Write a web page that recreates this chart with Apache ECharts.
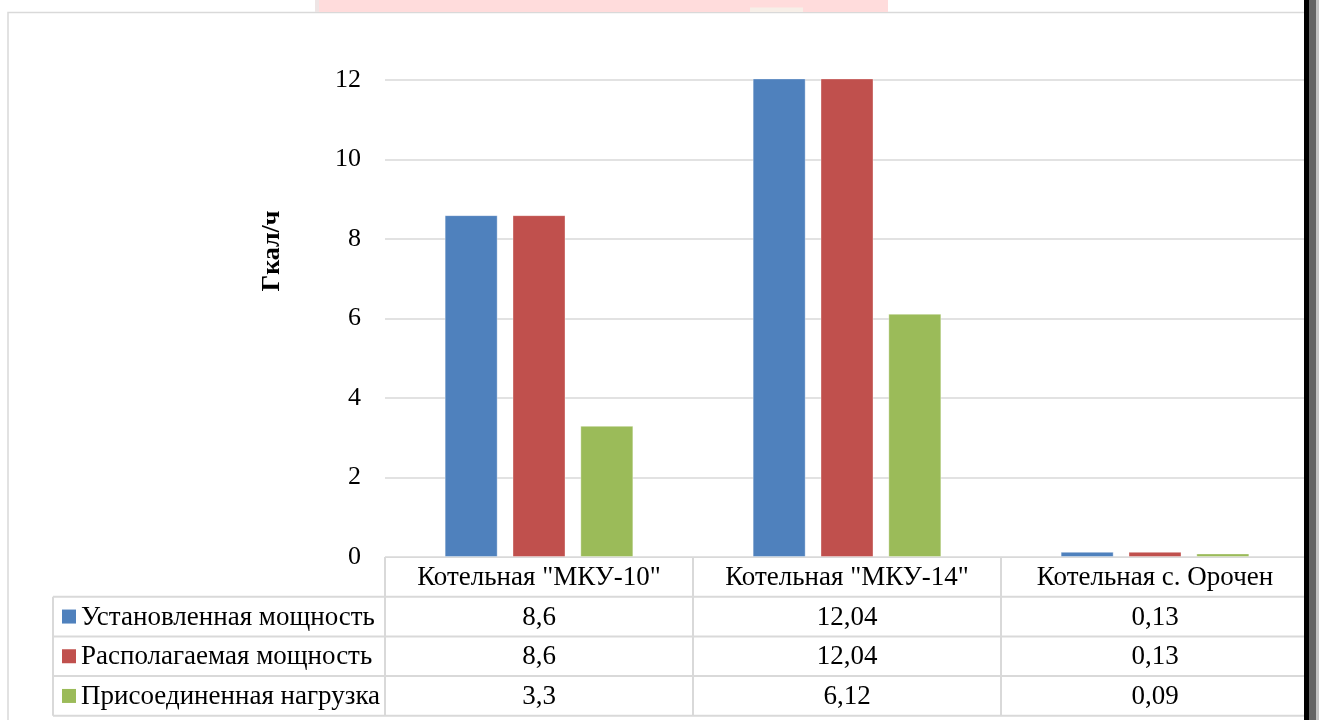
<!DOCTYPE html>
<html>
<head>
<meta charset="utf-8">
<style>
  html, body { margin: 0; padding: 0; background: #ffffff; }
  #chart { width: 1324px; height: 720px; }
</style>
<script src="https://cdn.jsdelivr.net/npm/echarts@6/dist/echarts.min.js"></script>
</head>
<body>
<div id="chart"></div>
<script>
// Boiler houses and their capacities, Gcal/h
const categories = ['Котельная "МКУ-10"', 'Котельная "МКУ-14"', 'Котельная с. Орочен'];
const seriesNames = ['Установленная мощность', 'Располагаемая мощность', 'Присоединенная нагрузка'];
const installedPower = [8.6, 12.04, 0.13];
const availablePower = [8.6, 12.04, 0.13];
const connectedLoad = [3.3, 6.12, 0.09];
const yTicks = [0, 2, 4, 6, 8, 10, 12];
const axisTitle = 'Гкал/ч';

const seriesValues = [installedPower, availablePower, connectedLoad];
const colors = ['#4F81BD', '#C0504D', '#9BBB59'];
const gridColor = '#d9d9d9';
const font = '"Liberation Serif", "Times New Roman", serif';
const tableFont = '27px ' + font;

const chart = echarts.init(document.getElementById('chart'), null, { renderer: 'canvas' });

const GRID = { left: 385, right: 15, top: 80, bottom: 163 };

chart.setOption({
  animation: false,
  backgroundColor: '#ffffff',
  grid: GRID,
  xAxis: {
    type: 'category',
    data: categories,
    axisLine: { show: true, lineStyle: { color: gridColor, width: 1 } },
    axisTick: { show: false },
    axisLabel: { show: false },
    splitLine: { show: false }
  },
  yAxis: {
    type: 'value',
    min: yTicks[0],
    max: yTicks[yTicks.length - 1],
    interval: yTicks[1] - yTicks[0],
    axisLine: { show: false },
    axisTick: { show: false },
    axisLabel: { color: '#000', fontFamily: font, fontSize: 26, margin: 24 },
    splitLine: { show: true, lineStyle: { color: gridColor, width: 1.5 } }
  },
  series: seriesValues.map((vals, i) => ({
    name: seriesNames[i],
    type: 'bar',
    data: vals,
    barWidth: 53,
    barGap: '28%',
    clip: false,
    itemStyle: { color: colors[i], borderColor: 'rgba(255,255,255,0.35)', borderWidth: 1 }
  }))
});

// Data table under the plot, laid out from the category axis positions
function buildTable() {
  const els = [];
  const c0 = chart.convertToPixel({ xAxisIndex: 0 }, 0);
  const c1 = chart.convertToPixel({ xAxisIndex: 0 }, 1);
  const band = c1 - c0;
  const axisY = chart.convertToPixel({ yAxisIndex: 0 }, 0);
  const tableLeft = 53;
  const colStart = c0 - band / 2;
  const tableRight = colStart + band * categories.length;
  const rowH = 39.7;
  const headerBottom = axisY + rowH;
  const rows = seriesNames.length;
  const bottom = headerBottom + rowH * rows;
  const line = (x1, y1, x2, y2) => ({
    type: 'line', silent: true,
    shape: { x1, y1, x2, y2 },
    style: { stroke: gridColor, lineWidth: 2 }
  });

  // horizontal rules
  for (let r = 0; r <= rows; r++) {
    const y = headerBottom + rowH * r;
    els.push(line(tableLeft, y, tableRight, y));
  }
  // vertical rules
  els.push(line(tableLeft, headerBottom, tableLeft, bottom));
  for (let c = 0; c <= categories.length; c++) {
    const x = colStart + band * c;
    els.push(line(x, axisY, x, bottom));
  }
  // header cells
  categories.forEach((name, c) => {
    els.push({
      type: 'text', silent: true,
      x: colStart + band * (c + 0.5), y: axisY + rowH / 2 + 1,
      style: { text: name, fill: '#000', font: tableFont, textAlign: 'center', textVerticalAlign: 'middle' }
    });
  });
  // legend keys and values
  seriesNames.forEach((name, r) => {
    const cy = headerBottom + rowH * (r + 0.5);
    els.push({
      type: 'rect', silent: true,
      shape: { x: 62, y: cy - 7, width: 14, height: 14 },
      style: { fill: colors[r] }
    });
    els.push({
      type: 'text', silent: true,
      x: 81, y: cy + 1,
      style: { text: name, fill: '#000', font: tableFont, textAlign: 'left', textVerticalAlign: 'middle' }
    });
    seriesValues[r].forEach((v, c) => {
      els.push({
        type: 'text', silent: true,
        x: colStart + band * (c + 0.5), y: cy + 1,
        style: { text: String(v).replace('.', ','), fill: '#000', font: tableFont, textAlign: 'center', textVerticalAlign: 'middle' }
      });
    });
  });

  // axis title
  els.push({
    type: 'text', silent: true,
    x: 272, y: 251, rotation: Math.PI / 2,
    style: { text: axisTitle, fill: '#000', font: 'bold 26px ' + font, textAlign: 'center', textVerticalAlign: 'middle' }
  });

  // outer chart frame
  els.push({
    type: 'rect', silent: true, z: -1,
    shape: { x: 8, y: 12.5, width: 1330, height: 760 },
    style: { fill: 'none', stroke: gridColor, lineWidth: 1.5 }
  });

  // page pieces around the chart: strip above and window edge on the right
  els.push({ type: 'rect', silent: true, shape: { x: 315, y: 0, width: 573, height: 12 }, style: { fill: '#ffdcdc' } });
  els.push({ type: 'rect', silent: true, shape: { x: 315, y: 0, width: 4, height: 12 }, style: { fill: '#eee5e5' } });
  els.push({ type: 'rect', silent: true, shape: { x: 750, y: 7.5, width: 53, height: 4.5 }, style: { fill: '#f7efe8' } });
  els.push({ type: 'rect', silent: true, z: 100, shape: { x: 1304, y: 0, width: 5, height: 720 }, style: { fill: '#000000' } });
  els.push({ type: 'rect', silent: true, z: 100, shape: { x: 1309, y: 0, width: 7, height: 720 }, style: { fill: '#646464' } });
  els.push({ type: 'rect', silent: true, z: 100, shape: { x: 1316, y: 0, width: 3, height: 720 }, style: { fill: '#c4c4c4' } });
  els.push({ type: 'rect', silent: true, z: 100, shape: { x: 1319, y: 0, width: 5, height: 720 }, style: { fill: '#ffffff' } });

  chart.setOption({ graphic: { elements: els } });
}
buildTable();
</script>
</body>
</html>
